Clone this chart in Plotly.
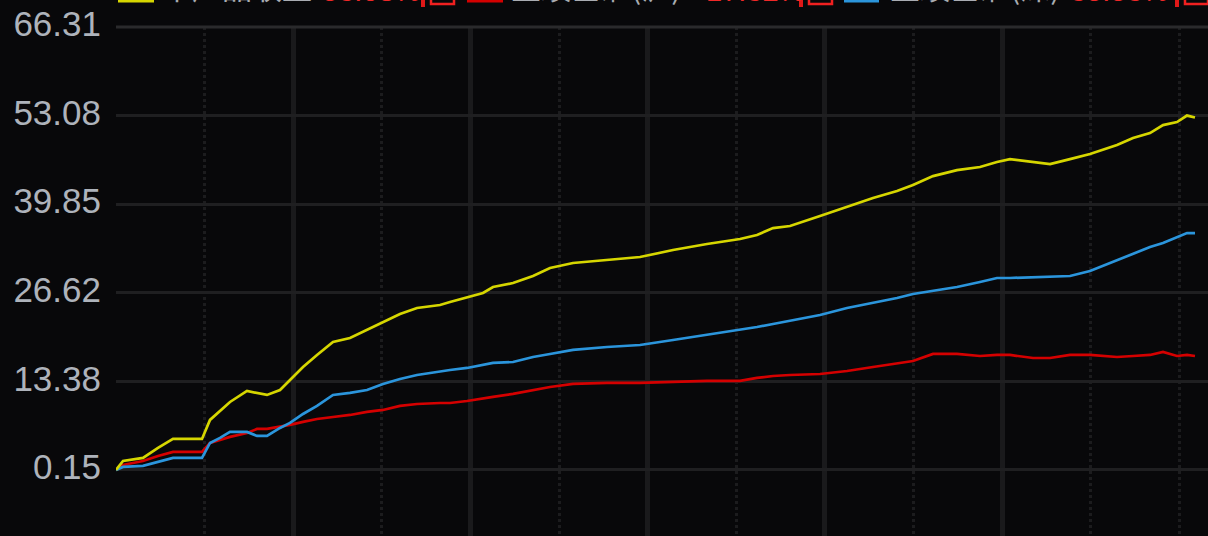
import plotly.graph_objects as go

# ---------------- data ----------------
days = [0, 7, 27, 42, 57, 86, 94, 104, 114, 131, 141, 151, 164, 174, 187, 201, 217, 234, 251, 267,
        284, 301, 324, 334, 351, 367, 377, 397, 417, 434, 457, 491, 524, 557, 591, 624, 641, 657, 674, 704,
        731, 757, 781, 797, 817, 841, 864, 881, 894, 917, 934, 954, 974, 1001, 1017, 1034, 1047, 1061, 1071, 1079]

product = [0.15, 1.49, 1.94, 3.43, 4.78, 4.78, 7.62, 8.96, 10.30, 11.94, 11.65, 11.35, 12.09, 13.59, 15.53, 17.32, 19.26, 19.86, 21.05, 22.25,
           23.44, 24.34, 24.79, 25.23, 25.98, 26.58, 27.47, 28.07, 29.12, 30.31, 31.06, 31.50, 31.95, 33.00, 33.89, 34.64, 35.24, 36.28, 36.58, 38.07,
           39.42, 40.76, 41.81, 42.70, 44.04, 44.94, 45.39, 46.14, 46.58, 46.14, 45.84, 46.58, 47.33, 48.67, 49.72, 50.47, 51.66, 52.11, 53.08, 52.80]

bench_sh = [0.15, 0.90, 1.49, 2.24, 2.84, 2.84, 4.18, 4.63, 5.08, 5.67, 6.27, 6.27, 6.57, 6.87, 7.32, 7.76, 8.06, 8.36, 8.81, 9.11,
            9.71, 10.00, 10.15, 10.15, 10.45, 10.75, 11.05, 11.50, 12.09, 12.54, 12.99, 13.14, 13.14, 13.29, 13.44, 13.44, 13.89, 14.18, 14.33, 14.48,
            14.93, 15.53, 16.13, 16.42, 17.47, 17.47, 17.17, 17.32, 17.32, 16.87, 16.87, 17.32, 17.32, 17.02, 17.17, 17.32, 17.77, 17.17, 17.32, 17.17]

bench_sz = [0.15, 0.60, 0.75, 1.34, 1.94, 1.94, 4.18, 4.93, 5.82, 5.82, 5.23, 5.23, 6.42, 7.17, 8.51, 9.71, 11.35, 11.65, 12.09, 12.99,
            13.74, 14.33, 14.93, 15.08, 15.38, 15.83, 16.13, 16.27, 17.02, 17.47, 18.07, 18.51, 18.81, 19.56, 20.31, 21.05, 21.50, 21.95, 22.40, 23.29,
            24.34, 25.08, 25.83, 26.43, 26.87, 27.47, 28.22, 28.82, 28.82, 28.96, 28.96, 29.12, 29.86, 31.50, 32.40, 33.44, 34.04, 34.94, 35.53, 35.53]

y_ticks = [0.15, 13.38, 26.62, 39.85, 53.08, 66.31]
y_tick_labels = ["0.15", "13.38", "26.62", "39.85", "53.08", "66.31"]

legend_names = ["本产品收益", "业绩基准(沪)", "业绩基准(深)"]
legend_values = ["53.08%", "17.32%", "35.53%"]

# ---------------- style ----------------
W, H = 1208, 536
ML, MT = 116, 27
PW, PH = W - ML, H - MT
BG = "#08080a"
YELLOW = "#d6d600"
RED = "#d40000"
BLUE = "#2b95dc"
X_SPAN = 1092
Y_RANGE = [-9.72, 66.31]
GRID_STEP = 88.6

fig = go.Figure()
for vals, col in ((bench_sh, RED), (bench_sz, BLUE), (product, YELLOW)):
    fig.add_trace(go.Scatter(x=days, y=vals, mode="lines",
                             line=dict(color=col, width=2.7), hoverinfo="skip"))


def px_x(p):
    return (p - ML) / PW


def px_y(p):
    return 1 + (MT - p) / PH


shapes = []
# top border
shapes.append(dict(type="line", xref="paper", yref="paper", x0=0, x1=1, y0=1, y1=1,
                   line=dict(color="#2a2a2c", width=3)))
# legend colour bars
for x0, x1, col in ((118, 154, YELLOW), (467, 503, RED), (844, 879, BLUE)):
    shapes.append(dict(type="line", xref="paper", yref="paper", x0=px_x(x0), x1=px_x(x1),
                       y0=px_y(1), y1=px_y(1), line=dict(color=col, width=3)))
# legend red icons
for xb in (421, 799, 1175):
    shapes.append(dict(type="line", xref="paper", yref="paper", x0=px_x(xb + 2), x1=px_x(xb + 2),
                       y0=px_y(-15), y1=px_y(7), line=dict(color="#e01818", width=4)))
    shapes.append(dict(type="rect", xref="paper", yref="paper", x0=px_x(xb + 10), x1=px_x(xb + 33),
                       y0=px_y(-25), y1=px_y(4), line=dict(color="#f02020", width=2.5)))

annotations = []
for name, val, xn, xv in zip(legend_names, legend_values, (160, 509, 888), (320, 704, 1068)):
    annotations.append(dict(text=name, x=0, y=1, xref="paper", yref="paper", xanchor="left",
                            yanchor="bottom", xshift=xn - ML, yshift=17, showarrow=False,
                            font=dict(family="Noto Sans CJK SC", size=30, color="#a9acb2")))
    annotations.append(dict(text=val, x=0, y=1, xref="paper", yref="paper", xanchor="left",
                            yanchor="bottom", xshift=xv - ML, yshift=18, showarrow=False,
                            font=dict(family="Liberation Sans", size=29, color="#f02828")))

fig.update_layout(
    width=W, height=H,
    margin=dict(l=ML, r=0, t=MT, b=0),
    paper_bgcolor=BG, plot_bgcolor=BG,
    showlegend=False,
    shapes=shapes,
    annotations=annotations,
    xaxis=dict(range=[0, X_SPAN], showticklabels=False, ticks="", zeroline=False,
               showline=True, linecolor="#343436", linewidth=3,
               tickvals=[GRID_STEP * k for k in (2, 4, 6, 8, 10)],
               showgrid=True, gridcolor="#1a1a1c", gridwidth=5,
               minor=dict(tickvals=[GRID_STEP * k for k in (1, 3, 5, 7, 9, 11, 12)],
                          showgrid=True, gridcolor="#1c1c1e", gridwidth=3, griddash="3px,3px",
                          ticks="")),
    yaxis=dict(range=Y_RANGE, tickvals=y_ticks, ticktext=y_tick_labels, ticks="",
               zeroline=False, showgrid=True, gridcolor="#1f1f21", gridwidth=3,
               tickfont=dict(family="Liberation Sans", size=35, color="#aeb3bb"),
               ticklabelstandoff=14, ticklabelshift=-3),
)

fig.write_html("out.html", config={"displayModeBar": False},
               post_script="document.body.style.margin='0';document.body.style.background='#08080a';")
